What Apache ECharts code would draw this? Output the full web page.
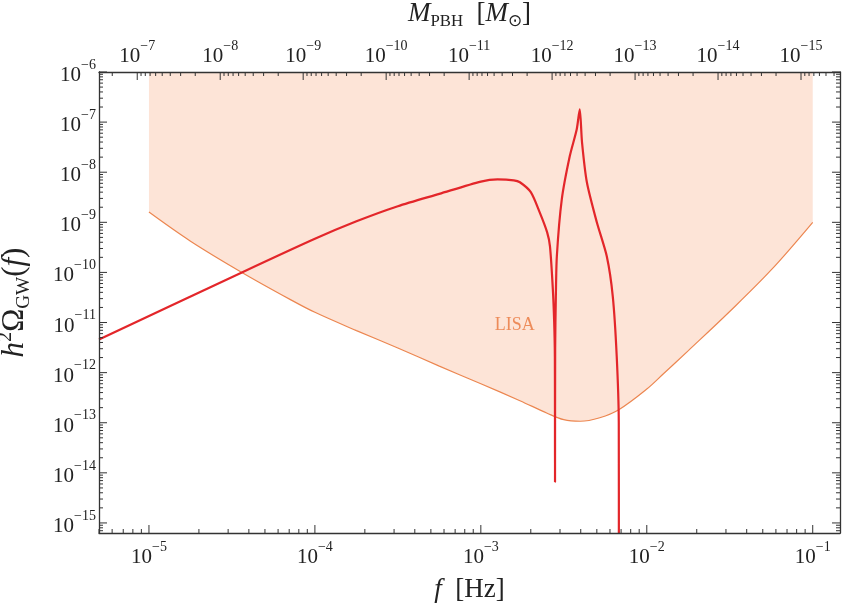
<!DOCTYPE html>
<html>
<head>
<meta charset="utf-8">
<script src="https://cdn.jsdelivr.net/npm/echarts@6/dist/echarts.min.js"></script>
<style>
  html, body { margin: 0; background: #fff; }
  #chart { width: 842px; height: 610px; }
</style>
</head>
<body>
<div id="chart"></div>
<script>
// h^2 Omega_GW(f) of the induced GW signal, with the LISA band
const gwFreq = [5.0e-6, 3.63e-5, 1.0e-4, 1.78e-4, 3.16e-4, 5.62e-4, 1.0e-3, 1.26e-3, 1.58e-3, 1.72e-3,
  2.0e-3, 2.26e-3, 2.51e-3, 2.61e-3, 2.716e-3, 2.767e-3, 2.793e-3, 2.799e-3,
  2.805e-3, 2.831e-3, 2.871e-3, 3.076e-3, 3.436e-3, 3.784e-3, 3.945e-3,
  4.07e-3, 4.355e-3, 5.0e-3, 5.74e-3, 6.24e-3, 6.59e-3, 6.78e-3, 6.79e-3]
const gwOmega = [4.6e-12, 1.0e-10, 4.7e-10, 1.05e-9, 2.1e-9, 3.7e-9, 6.5e-9, 7.2e-9, 6.9e-9, 6.3e-9,
  4.0e-9, 1.6e-9, 6.3e-10, 3.3e-10, 4.6e-11, 1.0e-11, 2.1e-12, 6.6e-15,
  3.2e-12, 3.2e-11, 2.1e-10, 2.9e-9, 2.1e-8, 7.2e-8, 1.8e-7,
  4.0e-8, 6.3e-9, 1.0e-9, 2.1e-10, 3.3e-11, 2.1e-12, 1.0e-13, 1.0e-16]

const lisaFreq = [1e-5, 1.78e-5, 3.63e-5, 7.08e-5, 1e-4, 1.78e-4, 3.16e-4, 5.62e-4, 1e-3, 1.72e-3,
  2.51e-3, 3.16e-3, 3.98e-3, 5.21e-3, 6.78e-3, 1e-2, 1.26e-2, 1.78e-2, 3.16e-2, 5.62e-2, 1e-1]
const lisaOmega = [1.6e-9, 4.2e-10, 1.0e-10, 2.9e-11, 1.6e-11, 6.9e-12, 3.1e-12, 1.35e-12, 6.0e-13, 2.75e-13,
  1.55e-13, 1.15e-13, 1.07e-13, 1.26e-13, 1.82e-13, 4.7e-13, 9.5e-13, 2.75e-12, 1.66e-11, 1.12e-10, 1.0e-9]
const lisaLabel = [1.6e-3, 8.7e-12]

const fTicks = [1e-5, 1e-4, 1e-3, 1e-2, 1e-1]
const omegaTicks = [1e-6, 1e-7, 1e-8, 1e-9, 1e-10, 1e-11, 1e-12, 1e-13, 1e-14, 1e-15]
const massTicks = [1e-7, 1e-8, 1e-9, 1e-10, 1e-11, 1e-12, 1e-13, 1e-14, 1e-15]
const fRange = [5e-6, 0.146]
const omegaRange = [6.3e-16, 1e-6]
// M_PBH = 1e-7 Msun at f = 8.5e-6 Hz, M ~ f^-2
const massRef = [8.5e-6, 1e-7]

const lg = Math.log10
const toMass = lf => lg(massRef[1]) - 2 * (lf - lg(massRef[0]))

const fMin = lg(fRange[0]), fMax = lg(fRange[1])
const yMin = lg(omegaRange[0]), yMax = lg(omegaRange[1])
const mMin = toMass(fMax), mMax = toMass(fMin)

const minors = (lo, hi) => {
  const out = []
  for (let n = Math.floor(lo) - 1; n <= Math.ceil(hi); n++) {
    for (let k = 2; k <= 9; k++) {
      const v = n + lg(k)
      if (v >= lo && v <= hi) out.push(v)
    }
  }
  return out
}

const MAJOR = 8, MINOR = 4
// tick marks as [x, y, dx, dy], placed through the axes
const fTickMarks = [
  ...fTicks.map(v => [lg(v), yMin, 0, -MAJOR]),
  ...minors(fMin, fMax).map(v => [v, yMin, 0, -MINOR]),
  ...omegaTicks.map(v => [fMin, lg(v), MAJOR, 0]),
  ...minors(yMin, yMax).map(v => [fMin, v, MINOR, 0]),
  ...omegaTicks.map(v => [fMax, lg(v), -MAJOR, 0]),
  ...minors(yMin, yMax).map(v => [fMax, v, -MINOR, 0])
]
const massTickMarks = [
  ...massTicks.map(v => [lg(v), yMax, 0, MAJOR]),
  ...minors(mMin, mMax).map(v => [v, yMax, 0, MINOR])
]

const serif = 'Liberation Serif'
const ink = '#222'
const axisColor = '#333'
const powRich = {
  b: { fontFamily: serif, fontSize: 21, lineHeight: 28, verticalAlign: 'bottom', color: ink },
  s: { fontFamily: serif, fontSize: 14, lineHeight: 13, verticalAlign: 'top', color: ink }
}
const powLabel = v => '{b|10}{s|\u2212' + Math.abs(Math.round(v)) + '}'
const titleRich = (size) => ({
  i: { fontFamily: serif, fontStyle: 'italic', fontSize: size, lineHeight: size + 6, color: ink },
  r: { fontFamily: serif, fontSize: size, lineHeight: size + 6, color: ink },
  sup: { fontFamily: serif, fontSize: size * 0.65, lineHeight: size * 0.65, verticalAlign: 'top', color: ink },
  sub: { fontFamily: serif, fontSize: size * 0.62, lineHeight: size - 2, verticalAlign: 'bottom', color: ink }
})

const frameAxis = (extra) => Object.assign({
  type: 'value',
  z: 10,
  axisLine: { show: true, lineStyle: { color: axisColor, width: 1.3 } },
  axisTick: { show: false },
  axisLabel: { show: false },
  splitLine: { show: false }
}, extra)

const tickSeries = (xIndex, data) => ({
  type: 'custom',
  xAxisIndex: xIndex, yAxisIndex: 0,
  silent: true,
  clip: false,
  z: 10,
  data: data,
  renderItem: (params, api) => {
    const p = api.coord([api.value(0), api.value(1)])
    return {
      type: 'line',
      shape: { x1: p[0], y1: p[1], x2: p[0] + api.value(2), y2: p[1] + api.value(3) },
      style: { stroke: axisColor, lineWidth: 1 }
    }
  }
})

const chart = echarts.init(document.getElementById('chart'))

const option = {
  animation: false,
  backgroundColor: '#fff',
  grid: { left: 99, right: 2, top: 72, bottom: 77, outerBoundsMode: 'none', containLabel: false },
  xAxis: [
    frameAxis({
      position: 'bottom', min: fMin, max: fMax,
      axisLabel: { show: true, customValues: fTicks.map(lg), formatter: powLabel, rich: powRich, margin: 7 },
      name: '{i|f}{r|  [Hz]}', nameLocation: 'middle', nameGap: 40,
      nameTextStyle: { rich: titleRich(27) }
    }),
    frameAxis({
      position: 'top', min: mMin, max: mMax, inverse: true,
      axisLabel: { show: true, customValues: massTicks.map(lg), formatter: powLabel, rich: powRich, margin: 5 },
      name: '{i|M}{sub|PBH}{r|  [}{i|M}{sub|\u2299}{r|]}', nameLocation: 'middle', nameGap: 42,
      nameTextStyle: { rich: titleRich(27) }
    })
  ],
  yAxis: [
    frameAxis({
      position: 'left', min: yMin, max: yMax,
      axisLabel: { show: true, customValues: omegaTicks.map(lg), formatter: powLabel, rich: powRich, margin: 3 },
      name: '{i|h}{sup|2}{r|\u03a9}{sub|GW}{r|(}{i|f}{r|)}', nameLocation: 'middle', nameGap: 66, nameRotate: 90,
      nameTextStyle: { rich: titleRich(31) }
    }),
    frameAxis({ position: 'right', min: yMin, max: yMax })
  ],
  series: [
    {
      name: 'LISA',
      type: 'line',
      xAxisIndex: 0, yAxisIndex: 0,
      data: lisaFreq.map((f, i) => [lg(f), lg(lisaOmega[i])]),
      showSymbol: false,
      smooth: 0.35,
      lineStyle: { color: '#ec8650', width: 1.2 },
      areaStyle: { origin: 'end', color: '#fde4d7', opacity: 1 },
      z: 1
    },
    {
      name: 'LISA label',
      type: 'scatter',
      xAxisIndex: 0, yAxisIndex: 0,
      data: [[lg(lisaLabel[0]), lg(lisaLabel[1])]],
      symbolSize: 0,
      label: { show: true, position: 'inside', formatter: 'LISA', color: '#e8743a', fontFamily: serif, fontSize: 18 },
      z: 3
    },
    {
      name: 'GW',
      type: 'line',
      xAxisIndex: 0, yAxisIndex: 0,
      data: gwFreq.map((f, i) => [lg(f), lg(gwOmega[i])]),
      showSymbol: false,
      smooth: 0.25,
      clip: true,
      lineStyle: { color: '#e3262a', width: 2.2 },
      z: 4
    },
    tickSeries(0, fTickMarks),
    tickSeries(1, massTickMarks)
  ]
}

chart.setOption(option)
</script>
</body>
</html>
